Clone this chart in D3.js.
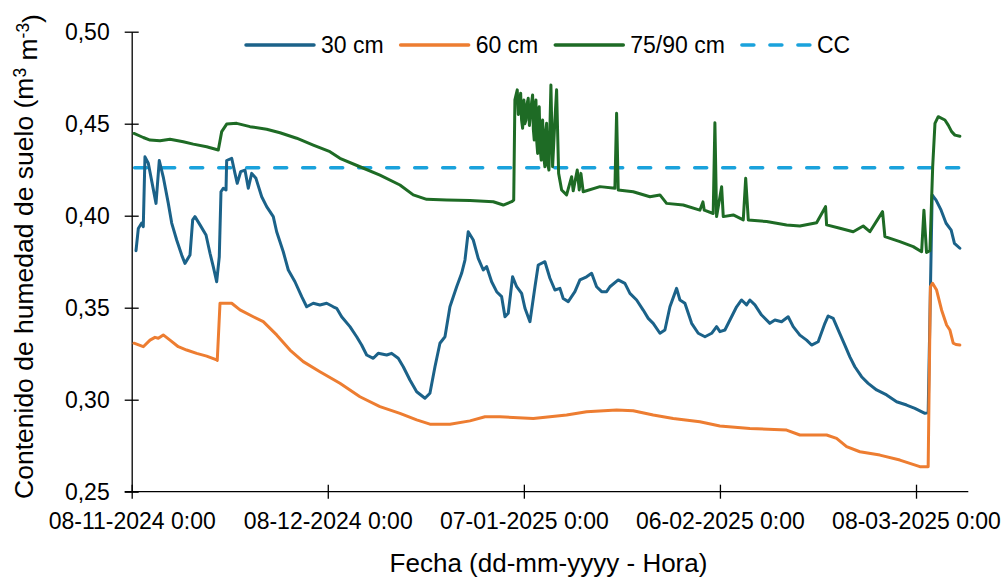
<!DOCTYPE html>
<html>
<head>
<meta charset="utf-8">
<script src="https://cdn.jsdelivr.net/npm/d3@7"></script>
<style>
  html, body { margin: 0; padding: 0; background: #fff; }
  svg { display: block; font-family: "Liberation Sans", Arial, sans-serif; }
</style>
</head>
<body>
<svg id="chart" width="1008" height="578"></svg>
<script>
// Soil water content at three depths (m3 m-3), time in days since 08-11-2024 0:00
const dias30 = [0.66,1.01,1.53,1.77,2.03,2.54,3.72,4.22,4.83,5.60,6.12,6.88,7.65,8.15,8.92,9.33,9.68,10.45,11.37,11.98,12.48,13.00,13.40,13.66,14.01,14.43,14.53,15.30,15.80,16.15,16.67,17.33,17.84,18.36,19.01,19.89,20.65,21.66,22.18,23.19,23.96,24.98,26.01,26.77,27.78,28.80,29.83,30.84,31.36,32.12,33.39,34.42,35.18,35.95,36.96,37.72,39.01,39.77,40.78,41.55,42.57,43.60,44.87,45.63,46.40,47.16,47.93,48.69,49.72,50.48,50.99,51.49,52.26,53.02,53.79,54.31,55.07,55.84,56.60,57.11,57.61,58.28,58.90,59.66,60.17,60.93,61.70,62.20,63.22,63.99,64.75,65.52,66.02,66.79,67.81,68.58,69.60,70.37,71.13,71.90,72.66,73.17,74.44,75.46,76.23,77.25,78.26,79.03,79.79,80.82,81.58,82.35,83.37,83.88,84.64,85.67,86.68,87.71,88.73,89.49,90.00,90.76,91.53,92.55,93.31,94.08,94.58,95.35,96.37,97.64,98.41,99.43,100.44,101.21,102.23,103.26,104.02,105.03,106.06,106.56,107.33,108.09,109.11,109.88,110.64,111.67,112.68,113.97,115.50,117.03,118.56,119.83,121.36,121.86,122.47,123.07,123.84,124.60,125.38,125.88,126.71];
const hum30 = [0.381,0.393,0.396,0.394,0.432,0.4285,0.4067,0.430,0.421,0.4067,0.396,0.3868,0.3786,0.3741,0.3786,0.3977,0.3995,0.395,0.3895,0.3796,0.3723,0.3641,0.3777,0.413,0.4149,0.414,0.430,0.4312,0.423,0.4176,0.4239,0.4248,0.4149,0.423,0.4203,0.4103,0.4049,0.3995,0.3913,0.3804,0.3705,0.3641,0.356,0.3505,0.3524,0.3515,0.3524,0.3505,0.3497,0.3451,0.3397,0.3342,0.3297,0.3243,0.3225,0.3252,0.3243,0.3252,0.3225,0.3179,0.3107,0.3043,0.3008,0.3035,0.3179,0.3307,0.3342,0.3505,0.3614,0.3687,0.3759,0.3913,0.3868,0.3768,0.3705,0.3723,0.3641,0.3587,0.356,0.3451,0.347,0.3668,0.3614,0.3578,0.3497,0.3424,0.3614,0.3732,0.375,0.366,0.3596,0.3605,0.355,0.3533,0.3587,0.3651,0.3668,0.3687,0.3614,0.3587,0.3587,0.3614,0.3651,0.3632,0.3578,0.3542,0.3487,0.3442,0.3415,0.3361,0.3379,0.3505,0.3605,0.3542,0.3524,0.3415,0.3361,0.3342,0.3361,0.3397,0.3370,0.3379,0.3433,0.3505,0.3542,0.3515,0.3542,0.3515,0.346,0.3415,0.3433,0.3424,0.3451,0.3397,0.3351,0.3324,0.3297,0.3315,0.3415,0.3455,0.3442,0.3379,0.3297,0.3233,0.3179,0.3125,0.3089,0.3053,0.3026,0.2989,0.2971,0.2953,0.2926,0.2930,0.4113,0.4085,0.403,0.3959,0.3922,0.385,0.3823];

const dias60 = [0.35,1.77,2.80,3.56,4.07,4.83,5.86,7.13,8.41,9.94,11.47,13.00,13.09,13.51,15.30,16.57,18.60,20.13,22.18,24.22,26.25,28.80,31.86,34.92,37.98,41.04,43.60,45.63,48.69,51.75,54.05,56.35,61.44,66.54,69.60,74.19,76.73,79.79,82.85,86.93,89.99,94.58,100.20,102.23,106.32,107.85,109.38,111.41,114.47,117.53,120.59,121.86,122.20,122.53,123.15,123.91,124.68,125.18,125.69,126.10,126.71];
const hum60 = [0.3307,0.3288,0.3324,0.3339,0.3334,0.3352,0.3324,0.3288,0.327,0.3252,0.3237,0.3216,0.3213,0.3524,0.3524,0.3488,0.3451,0.3424,0.3352,0.327,0.3207,0.3152,0.3089,0.3016,0.2962,0.2926,0.289,0.2867,0.2867,0.2885,0.2907,0.2907,0.2898,0.2917,0.2935,0.2944,0.294,0.2917,0.2898,0.288,0.2857,0.2844,0.2835,0.2808,0.2808,0.279,0.2745,0.2717,0.2699,0.2672,0.2636,0.2636,0.3614,0.3633,0.3596,0.3488,0.3406,0.3379,0.3307,0.3300,0.3297];

const dias90 = [0.35,1.77,2.80,4.33,5.86,7.89,9.42,11.47,13.25,13.77,14.53,16.06,18.10,20.65,22.69,25.24,27.78,30.33,31.86,34.92,37.98,41.04,43.08,45.13,48.19,51.75,55.32,56.85,58.13,58.45,58.63,58.99,59.15,59.29,59.51,59.65,59.81,60.01,60.15,60.32,60.50,60.67,60.85,61.04,61.20,61.34,61.45,61.59,61.70,61.85,61.98,62.11,62.23,62.35,62.50,62.66,62.75,62.87,63.05,63.22,63.35,63.48,63.65,63.84,64.14,64.40,64.75,65.01,65.32,65.78,66.54,67.31,67.55,68.17,68.47,68.73,69.08,71.64,73.93,74.19,74.44,76.73,79.29,80.82,81.84,84.38,86.93,87.40,87.60,88.97,89.23,89.49,90.26,90.51,92.04,93.57,93.94,94.34,97.14,100.20,102.23,104.79,106.16,106.32,108.35,110.39,111.92,112.94,114.88,115.24,117.53,119.57,120.86,121.21,121.61,122.13,122.55,122.90,123.40,124.42,124.93,125.45,125.95,126.71];
const hum90 = [0.4447,0.4425,0.4411,0.4407,0.4415,0.4402,0.4389,0.4375,0.4357,0.4457,0.4498,0.4502,0.4484,0.4470,0.4451,0.4421,0.4384,0.4348,0.4312,0.4266,0.4221,0.4167,0.4113,0.4089,0.4085,0.4082,0.4076,0.4058,0.4076,0.4085,0.4629,0.4684,0.455,0.4575,0.4666,0.452,0.4475,0.4629,0.450,0.452,0.461,0.4638,0.449,0.4557,0.462,0.4656,0.447,0.4411,0.458,0.4629,0.440,0.4338,0.456,0.4592,0.436,0.4302,0.448,0.452,0.432,0.4266,0.446,0.4502,0.428,0.4248,0.471,0.4266,0.452,0.4684,0.423,0.414,0.4113,0.4212,0.4135,0.4248,0.414,0.423,0.413,0.4158,0.4149,0.4557,0.414,0.413,0.4103,0.4113,0.4067,0.4058,0.403,0.4075,0.403,0.4012,0.4505,0.3995,0.4157,0.3995,0.4004,0.3977,0.4203,0.3977,0.3968,0.395,0.3944,0.3962,0.4049,0.395,0.3932,0.3913,0.3944,0.3913,0.4022,0.3886,0.3859,0.3832,0.3804,0.403,0.3800,0.381,0.4266,0.4502,0.4538,0.452,0.4492,0.4457,0.4438,0.4432];

// Field capacity
const capacidadCampo = 0.426;

const seriesNombres = ["30 cm", "60 cm", "75/90 cm"];
const seriesColores = ["#1b6289", "#ed7d31", "#1e6b25"];
const ccNombre = "CC";
const ccColor = "#1aa2dc";

const yTicks = [0.25, 0.30, 0.35, 0.40, 0.45, 0.50];
const xTicks = [new Date(2024, 10, 8), new Date(2024, 11, 8), new Date(2025, 0, 7), new Date(2025, 1, 6), new Date(2025, 2, 8)];
const xInicio = new Date(2024, 10, 8);
const xFin = new Date(2025, 2, 16);

const toDate = d => new Date(xInicio.getTime() + d * 864e5);
const zip = (ds, vs) => ds.map((d, i) => ({ t: toDate(d), v: vs[i] }));
const series = [zip(dias30, hum30), zip(dias60, hum60), zip(dias90, hum90)];

const svg = d3.select("#chart");
const x = d3.scaleTime().domain([xInicio, xFin]).range([131.7, 968.3]);
const y = d3.scaleLinear().domain([0.25, 0.50]).range([491.7, 31.7]);

const fmtY = d3.format(".2f");
const fmtX = d3.timeFormat("%d-%m-%Y %-H:%M");

// Axes with ticks crossing the axis line
const gy = svg.append("g").attr("transform", "translate(131.7,0)")
  .call(d3.axisLeft(y).tickValues(yTicks).tickSize(7).tickSizeOuter(0).tickPadding(15)
    .tickFormat(d => fmtY(d).replace(".", ",")));
gy.selectAll(".tick line").attr("x1", 7);
const gx = svg.append("g").attr("transform", "translate(0,491.7)")
  .call(d3.axisBottom(x).tickValues(xTicks).tickSize(7).tickSizeOuter(0).tickPadding(13.5)
    .tickFormat(fmtX));
gx.selectAll(".tick line").attr("y1", -7);

[gx, gy].forEach(g => {
  g.selectAll("path.domain").attr("stroke", "#000").attr("stroke-width", 1.3);
  g.selectAll(".tick line").attr("stroke", "#000").attr("stroke-width", 1.3);
  g.selectAll(".tick text").attr("fill", "#000").style("font-size", "23px")
    .style("font-family", '"Liberation Sans", Arial, sans-serif');
});
gx.select("path.domain").attr("d", `M${x.range()[0] - 7},0H${x.range()[1]}`);

// Field capacity reference line
svg.append("line")
  .attr("x1", x.range()[0] + 3).attr("x2", x.range()[1])
  .attr("y1", y(capacidadCampo)).attr("y2", y(capacidadCampo))
  .attr("stroke", ccColor).attr("stroke-width", 3.5)
  .attr("stroke-dasharray", "12,16").attr("stroke-linecap", "round");

// Series
const line = d3.line().x(d => x(d.t)).y(d => y(d.v));
series.forEach((s, i) => {
  svg.append("path").datum(s)
    .attr("d", line)
    .attr("fill", "none")
    .attr("stroke", seriesColores[i])
    .attr("stroke-width", 3)
    .attr("stroke-linejoin", "round")
    .attr("stroke-linecap", "round");
});

// Legend
const leg = svg.append("g");
const legItems = seriesNombres.map((n, i) => ({ n, c: seriesColores[i], dash: null }))
  .concat([{ n: ccNombre, c: ccColor, dash: "12,16" }]);
let lx = 246;
const ly = 45;
legItems.forEach(it => {
  leg.append("line").attr("x1", lx).attr("x2", lx + 68).attr("y1", ly).attr("y2", ly)
    .attr("stroke", it.c).attr("stroke-width", 3.5).attr("stroke-linecap", "round")
    .attr("stroke-dasharray", it.dash);
  const t = leg.append("text").attr("x", lx + 75).attr("y", ly + 8.3)
    .style("font-size", "23px").attr("fill", "#000").text(it.n);
  lx += 75 + t.node().getComputedTextLength() + 17;
});

// Axis titles
svg.append("text").attr("x", 548.5).attr("y", 571.5).attr("text-anchor", "middle")
  .style("font-size", "26px").attr("fill", "#000").text("Fecha (dd-mm-yyyy - Hora)");

const ty = svg.append("text").attr("transform", "translate(33,256.5) rotate(-90)")
  .attr("text-anchor", "middle").style("font-size", "26.5px").attr("fill", "#000");
ty.append("tspan").text("Contenido de humedad de suelo (m");
ty.append("tspan").attr("dy", "-0.42em").style("font-size", "17.5px").text("3");
ty.append("tspan").attr("dy", "0.42em").text(" m");
ty.append("tspan").attr("dy", "-0.42em").style("font-size", "17.5px").text("-3");
ty.append("tspan").attr("dy", "0.42em").text(")");
</script>
</body>
</html>
